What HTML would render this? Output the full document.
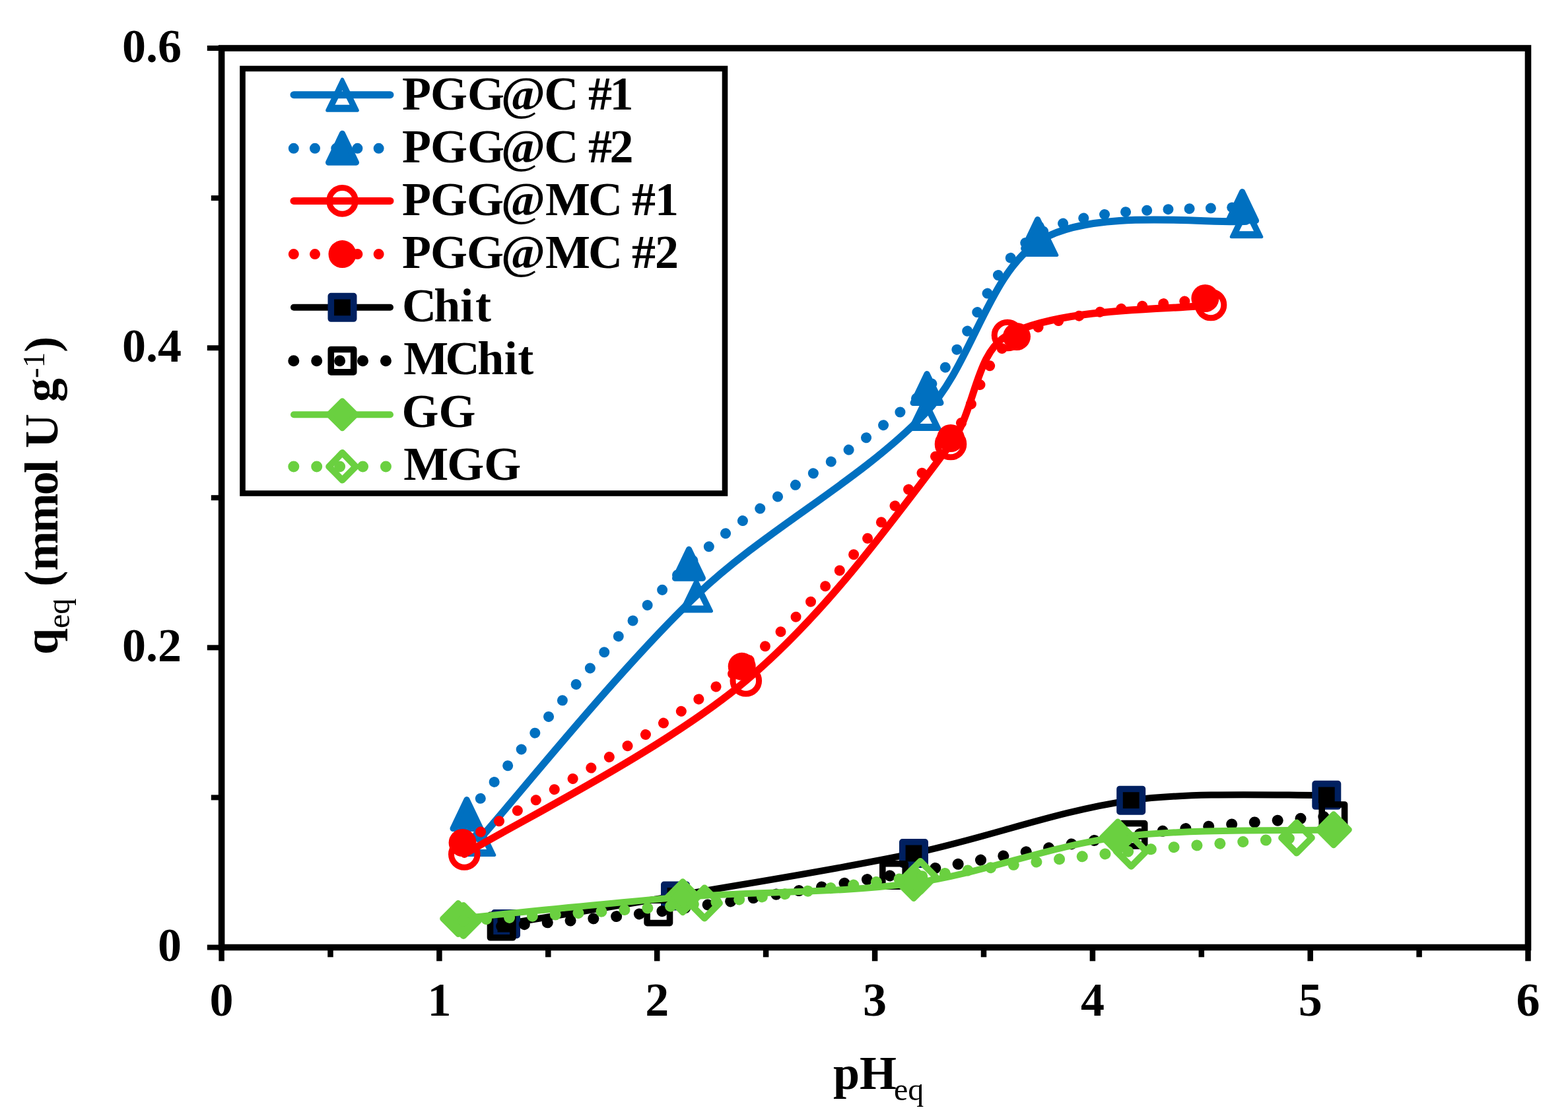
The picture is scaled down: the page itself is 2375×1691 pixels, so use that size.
<!DOCTYPE html>
<html><head><meta charset="utf-8"><title>Chart</title>
<style>html,body{margin:0;padding:0;background:#fff;overflow:hidden;}svg{display:block;}</style>
</head><body>
<svg width="2375" height="1691" viewBox="0 0 2375 1691">
<rect width="2375" height="1691" fill="#fff"/>
<path d="M726.0,1272.0 C780.8,1210.4 936.0,1015.9 1054.7,902.4 C1160.9,800.9 1299.3,731.6 1400.8,627.0 C1473.8,551.8 1495.9,412.1 1578.0,363.0 C1658.3,314.9 1836.3,339.9 1888.0,335.3" fill="none" stroke="#0070C0" stroke-width="11" stroke-linecap="round" stroke-linejoin="round"/>
<path d="M726.0,1248.5L748.8,1295.5L703.2,1295.5Z M726.0,1265.0L715.0,1287.0L737.0,1287.0Z" fill="#0070C0" fill-rule="evenodd"/><path d="M726.0,1248.5L748.8,1295.5L703.2,1295.5Z" fill="none" stroke="#0070C0" stroke-width="5" stroke-linejoin="round"/>
<path d="M1054.7,878.9L1077.5,925.9L1031.9,925.9Z M1054.7,895.4L1043.7,917.4L1065.7,917.4Z" fill="#0070C0" fill-rule="evenodd"/><path d="M1054.7,878.9L1077.5,925.9L1031.9,925.9Z" fill="none" stroke="#0070C0" stroke-width="5" stroke-linejoin="round"/>
<path d="M1400.8,603.5L1423.6,650.5L1378.0,650.5Z M1400.8,620.0L1389.8,642.0L1411.8,642.0Z" fill="#0070C0" fill-rule="evenodd"/><path d="M1400.8,603.5L1423.6,650.5L1378.0,650.5Z" fill="none" stroke="#0070C0" stroke-width="5" stroke-linejoin="round"/>
<path d="M1578.0,339.5L1600.8,386.5L1555.2,386.5Z M1578.0,356.0L1567.0,378.0L1589.0,378.0Z" fill="#0070C0" fill-rule="evenodd"/><path d="M1578.0,339.5L1600.8,386.5L1555.2,386.5Z" fill="none" stroke="#0070C0" stroke-width="5" stroke-linejoin="round"/>
<path d="M1888.0,311.8L1910.8,358.8L1865.2,358.8Z M1888.0,328.3L1877.0,350.3L1899.0,350.3Z" fill="#0070C0" fill-rule="evenodd"/><path d="M1888.0,311.8L1910.8,358.8L1865.2,358.8Z" fill="none" stroke="#0070C0" stroke-width="5" stroke-linejoin="round"/>
<path d="M707.0,1234.0 C763.1,1170.8 920.1,968.9 1043.5,854.7 C1152.5,753.9 1296.8,690.4 1404.0,589.0 C1472.9,523.8 1495.3,399.1 1571.6,355.0 C1654.5,307.1 1829.9,320.0 1881.6,313.0" fill="none" stroke="#0070C0" stroke-width="16" stroke-linecap="round" stroke-dasharray="0.01 32.2"/>
<path d="M707.0,1211.5L728.0,1255.5L686.0,1255.5Z" fill="#0070C0" stroke="#0070C0" stroke-width="9" stroke-linejoin="round"/>
<path d="M1043.5,832.2L1064.5,876.2L1022.5,876.2Z" fill="#0070C0" stroke="#0070C0" stroke-width="9" stroke-linejoin="round"/>
<path d="M1404.0,566.5L1425.0,610.5L1383.0,610.5Z" fill="#0070C0" stroke="#0070C0" stroke-width="9" stroke-linejoin="round"/>
<path d="M1571.6,332.5L1592.6,376.5L1550.6,376.5Z" fill="#0070C0" stroke="#0070C0" stroke-width="9" stroke-linejoin="round"/>
<path d="M1881.6,290.5L1902.6,334.5L1860.6,334.5Z" fill="#0070C0" stroke="#0070C0" stroke-width="9" stroke-linejoin="round"/>
<path d="M703.3,1294.5 C774.4,1250.7 1003.6,1138.0 1129.8,1031.5 C1249.2,930.8 1345.2,798.3 1440.0,673.0 C1477.2,623.8 1476.9,534.3 1526.0,508.0 C1608.2,464.0 1782.7,469.7 1834.0,462.0" fill="none" stroke="#FF0000" stroke-width="11" stroke-linecap="round" stroke-linejoin="round"/>
<circle cx="703.3" cy="1294.5" r="19.8" fill="none" stroke="#FF0000" stroke-width="9"/>
<circle cx="1129.8" cy="1031.5" r="19.8" fill="none" stroke="#FF0000" stroke-width="9"/>
<circle cx="1440.0" cy="673.0" r="19.8" fill="none" stroke="#FF0000" stroke-width="9"/>
<circle cx="1526.0" cy="508.0" r="19.8" fill="none" stroke="#FF0000" stroke-width="9"/>
<circle cx="1834.0" cy="462.0" r="19.8" fill="none" stroke="#FF0000" stroke-width="9"/>
<path d="M700.6,1277.0 C771.1,1232.5 996.4,1115.3 1123.7,1009.8 C1242.9,911.0 1340.3,783.7 1440.0,664.0 C1479.1,617.1 1490.3,537.3 1540.0,510.0 C1618.8,466.7 1777.8,461.7 1825.4,452.0" fill="none" stroke="#FF0000" stroke-width="16" stroke-linecap="round" stroke-dasharray="0.01 32.2"/>
<circle cx="700.6" cy="1277.0" r="21" fill="#FF0000"/>
<circle cx="1123.7" cy="1009.8" r="21" fill="#FF0000"/>
<circle cx="1440.0" cy="664.0" r="21" fill="#FF0000"/>
<circle cx="1540.0" cy="510.0" r="21" fill="#FF0000"/>
<circle cx="1825.4" cy="452.0" r="21" fill="#FF0000"/>
<path d="M766.0,1400.0 C808.8,1392.9 937.4,1372.3 1023.0,1357.5 C1143.4,1336.6 1264.4,1318.1 1384.0,1293.0 C1494.5,1269.8 1602.0,1228.4 1713.2,1212.7 C1810.4,1199.0 1960.0,1206.1 2009.3,1204.8" fill="none" stroke="#000000" stroke-width="10" stroke-linecap="round" stroke-linejoin="round"/>
<rect x="748.8" y="1382.8" width="34.4" height="34.4" fill="#000000" stroke="#002060" stroke-width="9.6" stroke-linejoin="round"/>
<rect x="1005.8" y="1340.3" width="34.4" height="34.4" fill="#000000" stroke="#002060" stroke-width="9.6" stroke-linejoin="round"/>
<rect x="1366.8" y="1275.8" width="34.4" height="34.4" fill="#000000" stroke="#002060" stroke-width="9.6" stroke-linejoin="round"/>
<rect x="1696.0" y="1195.5" width="34.4" height="34.4" fill="#000000" stroke="#002060" stroke-width="9.6" stroke-linejoin="round"/>
<rect x="1992.1" y="1187.6" width="34.4" height="34.4" fill="#000000" stroke="#002060" stroke-width="9.6" stroke-linejoin="round"/>
<path d="M759.7,1403.6 C799.3,1399.9 918.5,1391.7 997.3,1381.4 C1116.6,1365.8 1235.2,1345.3 1354.0,1326.0 C1475.0,1306.4 1595.1,1281.2 1716.5,1264.8 C1816.9,1251.2 1968.9,1241.0 2019.4,1236.2" fill="none" stroke="#000000" stroke-width="17" stroke-linecap="round" stroke-dasharray="0.01 34.9"/>
<rect x="742.5" y="1386.4" width="34.4" height="34.4" fill="none" stroke="#000000" stroke-width="9.6" stroke-linejoin="round"/>
<rect x="980.1" y="1364.2" width="34.4" height="34.4" fill="none" stroke="#000000" stroke-width="9.6" stroke-linejoin="round"/>
<rect x="1336.8" y="1308.8" width="34.4" height="34.4" fill="none" stroke="#000000" stroke-width="9.6" stroke-linejoin="round"/>
<rect x="1699.3" y="1247.6" width="34.4" height="34.4" fill="none" stroke="#000000" stroke-width="9.6" stroke-linejoin="round"/>
<rect x="2002.2" y="1219.0" width="34.4" height="34.4" fill="none" stroke="#000000" stroke-width="9.6" stroke-linejoin="round"/>
<path d="M694.0,1392.0 C750.7,1386.5 920.6,1368.1 1034.2,1359.2 C1150.6,1350.1 1268.6,1353.9 1384.0,1338.0 C1488.3,1323.6 1588.9,1281.7 1693.2,1268.5 C1800.9,1254.8 1965.5,1259.2 2020.0,1257.3" fill="none" stroke="#6AD040" stroke-width="10" stroke-linecap="round" stroke-linejoin="round"/>
<path d="M694.0,1368.2L717.6,1392.0L694.0,1415.8L670.4,1392.0Z" fill="#6AD040" stroke="#6AD040" stroke-width="8.5" stroke-linejoin="round"/>
<path d="M1034.2,1335.4L1057.8,1359.2L1034.2,1383.0L1010.6,1359.2Z" fill="#6AD040" stroke="#6AD040" stroke-width="8.5" stroke-linejoin="round"/>
<path d="M1384.0,1314.2L1407.6,1338.0L1384.0,1361.8L1360.4,1338.0Z" fill="#6AD040" stroke="#6AD040" stroke-width="8.5" stroke-linejoin="round"/>
<path d="M1693.2,1244.7L1716.8,1268.5L1693.2,1292.3L1669.6,1268.5Z" fill="#6AD040" stroke="#6AD040" stroke-width="8.5" stroke-linejoin="round"/>
<path d="M2020.0,1233.5L2043.6,1257.3L2020.0,1281.1L1996.4,1257.3Z" fill="#6AD040" stroke="#6AD040" stroke-width="8.5" stroke-linejoin="round"/>
<path d="M702.0,1395.0 C762.9,1390.6 945.7,1380.3 1067.1,1368.5 C1176.4,1357.9 1285.0,1341.3 1394.0,1328.0 C1500.4,1315.0 1606.7,1300.6 1713.4,1289.7 C1796.7,1281.2 1922.2,1272.9 1964.0,1269.6" fill="none" stroke="#6AD040" stroke-width="17" stroke-linecap="round" stroke-dasharray="0.01 34.9"/>
<path d="M702.0,1372.0L724.9,1395.0L702.0,1418.0L679.1,1395.0Z" fill="none" stroke="#6AD040" stroke-width="10" stroke-linejoin="round"/>
<path d="M1067.1,1345.5L1089.9,1368.5L1067.1,1391.5L1044.2,1368.5Z" fill="none" stroke="#6AD040" stroke-width="10" stroke-linejoin="round"/>
<path d="M1394.0,1305.0L1416.8,1328.0L1394.0,1351.0L1371.2,1328.0Z" fill="none" stroke="#6AD040" stroke-width="10" stroke-linejoin="round"/>
<path d="M1713.4,1266.7L1736.2,1289.7L1713.4,1312.8L1690.6,1289.7Z" fill="none" stroke="#6AD040" stroke-width="10" stroke-linejoin="round"/>
<path d="M1964.0,1246.5L1986.8,1269.6L1964.0,1292.6L1941.2,1269.6Z" fill="none" stroke="#6AD040" stroke-width="10" stroke-linejoin="round"/>
<rect x="335.6" y="73.0" width="1978.9" height="1362.5" fill="none" stroke="#000" stroke-width="9.6"/>
<line x1="313.8" y1="1435.5" x2="335.6" y2="1435.5" stroke="#000" stroke-width="8"/>
<line x1="319.8" y1="1208.4" x2="335.6" y2="1208.4" stroke="#000" stroke-width="8"/>
<line x1="313.8" y1="981.3" x2="335.6" y2="981.3" stroke="#000" stroke-width="8"/>
<line x1="319.8" y1="754.2" x2="335.6" y2="754.2" stroke="#000" stroke-width="8"/>
<line x1="313.8" y1="527.2" x2="335.6" y2="527.2" stroke="#000" stroke-width="8"/>
<line x1="319.8" y1="300.1" x2="335.6" y2="300.1" stroke="#000" stroke-width="8"/>
<line x1="313.8" y1="73.0" x2="335.6" y2="73.0" stroke="#000" stroke-width="8"/>
<line x1="335.6" y1="1435.5" x2="335.6" y2="1456.3" stroke="#000" stroke-width="8.5"/>
<line x1="500.5" y1="1435.5" x2="500.5" y2="1450.3" stroke="#000" stroke-width="8.5"/>
<line x1="665.4" y1="1435.5" x2="665.4" y2="1456.3" stroke="#000" stroke-width="8.5"/>
<line x1="830.3" y1="1435.5" x2="830.3" y2="1450.3" stroke="#000" stroke-width="8.5"/>
<line x1="995.2" y1="1435.5" x2="995.2" y2="1456.3" stroke="#000" stroke-width="8.5"/>
<line x1="1160.1" y1="1435.5" x2="1160.1" y2="1450.3" stroke="#000" stroke-width="8.5"/>
<line x1="1325.1" y1="1435.5" x2="1325.1" y2="1456.3" stroke="#000" stroke-width="8.5"/>
<line x1="1490.0" y1="1435.5" x2="1490.0" y2="1450.3" stroke="#000" stroke-width="8.5"/>
<line x1="1654.9" y1="1435.5" x2="1654.9" y2="1456.3" stroke="#000" stroke-width="8.5"/>
<line x1="1819.8" y1="1435.5" x2="1819.8" y2="1450.3" stroke="#000" stroke-width="8.5"/>
<line x1="1984.7" y1="1435.5" x2="1984.7" y2="1456.3" stroke="#000" stroke-width="8.5"/>
<line x1="2149.6" y1="1435.5" x2="2149.6" y2="1450.3" stroke="#000" stroke-width="8.5"/>
<line x1="2314.5" y1="1435.5" x2="2314.5" y2="1456.3" stroke="#000" stroke-width="8.5"/>
<text x="275" y="1456.0" font-family="'Liberation Serif', 'Times New Roman', serif" font-weight="bold" font-size="72" text-anchor="end">0</text>
<text x="275" y="1001.8" font-family="'Liberation Serif', 'Times New Roman', serif" font-weight="bold" font-size="72" text-anchor="end">0.2</text>
<text x="275" y="547.7" font-family="'Liberation Serif', 'Times New Roman', serif" font-weight="bold" font-size="72" text-anchor="end">0.4</text>
<text x="275" y="93.5" font-family="'Liberation Serif', 'Times New Roman', serif" font-weight="bold" font-size="72" text-anchor="end">0.6</text>
<text x="335.6" y="1539" font-family="'Liberation Serif', 'Times New Roman', serif" font-weight="bold" font-size="72" text-anchor="middle">0</text>
<text x="665.4" y="1539" font-family="'Liberation Serif', 'Times New Roman', serif" font-weight="bold" font-size="72" text-anchor="middle">1</text>
<text x="995.2" y="1539" font-family="'Liberation Serif', 'Times New Roman', serif" font-weight="bold" font-size="72" text-anchor="middle">2</text>
<text x="1325.1" y="1539" font-family="'Liberation Serif', 'Times New Roman', serif" font-weight="bold" font-size="72" text-anchor="middle">3</text>
<text x="1654.9" y="1539" font-family="'Liberation Serif', 'Times New Roman', serif" font-weight="bold" font-size="72" text-anchor="middle">4</text>
<text x="1984.7" y="1539" font-family="'Liberation Serif', 'Times New Roman', serif" font-weight="bold" font-size="72" text-anchor="middle">5</text>
<text x="2314.5" y="1539" font-family="'Liberation Serif', 'Times New Roman', serif" font-weight="bold" font-size="72" text-anchor="middle">6</text>
<text x="1262" y="1650" font-family="'Liberation Serif', 'Times New Roman', serif" font-weight="bold" font-size="72">pH<tspan font-size="48" font-weight="normal" dx="-4" dy="17">eq</tspan></text>
<text transform="translate(87,992) rotate(-90)" font-family="'Liberation Serif', 'Times New Roman', serif" font-weight="bold" font-size="72">q<tspan font-size="48" font-weight="normal" dy="18">eq</tspan><tspan dy="-18"> (</tspan><tspan letter-spacing="-2.75">mmo</tspan><tspan>l U g</tspan><tspan font-size="47" font-weight="normal" dy="-20">-1</tspan><tspan dy="20">)</tspan></text>
<rect x="367.5" y="104" width="730.5" height="643.5" fill="#fff" stroke="#000" stroke-width="8.6"/>
<path d="M445,143.7H591" fill="none" stroke="#0070C0" stroke-width="11" stroke-linecap="round" stroke-linejoin="round"/>
<path d="M518.5,120.2L541.3,167.2L495.7,167.2Z M518.5,136.7L507.5,158.7L529.5,158.7Z" fill="#0070C0" fill-rule="evenodd"/><path d="M518.5,120.2L541.3,167.2L495.7,167.2Z" fill="none" stroke="#0070C0" stroke-width="5" stroke-linejoin="round"/>
<text x="608" y="165.5" dx="1 -1 0 -5 -1.7 0 -3.3 -3.4" font-family="'Liberation Serif', 'Times New Roman', serif" font-weight="bold" font-size="72">PGG@C #1</text>
<path d="M444.8,224.8H600" fill="none" stroke="#0070C0" stroke-width="16" stroke-linecap="round" stroke-dasharray="0.01 32.2"/>
<path d="M518.5,202.3L539.5,246.3L497.5,246.3Z" fill="#0070C0" stroke="#0070C0" stroke-width="9" stroke-linejoin="round"/>
<text x="608" y="245.8" dx="1 -1 0 -5 -1.7 0 -3.3 -3.4" font-family="'Liberation Serif', 'Times New Roman', serif" font-weight="bold" font-size="72">PGG@C #2</text>
<path d="M445,304.4H591" fill="none" stroke="#FF0000" stroke-width="11" stroke-linecap="round" stroke-linejoin="round"/>
<circle cx="518.5" cy="304.4" r="19.8" fill="none" stroke="#FF0000" stroke-width="9"/>
<text x="608" y="326.0" dx="1 -1 -1 -4 0 -3 0 -4 -1" font-family="'Liberation Serif', 'Times New Roman', serif" font-weight="bold" font-size="72">PGG@MC #1</text>
<path d="M444.8,385.1H600" fill="none" stroke="#FF0000" stroke-width="16" stroke-linecap="round" stroke-dasharray="0.01 32.2"/>
<circle cx="518.5" cy="385.1" r="21" fill="#FF0000"/>
<text x="608" y="406.2" dx="1 -1 -1 -4 0 -3 0 -4 -1" font-family="'Liberation Serif', 'Times New Roman', serif" font-weight="bold" font-size="72">PGG@MC #2</text>
<path d="M445,465.8H591" fill="none" stroke="#000000" stroke-width="10" stroke-linecap="round" stroke-linejoin="round"/>
<rect x="501.3" y="448.6" width="34.4" height="34.4" fill="#000000" stroke="#002060" stroke-width="9.6" stroke-linejoin="round"/>
<text x="608" y="486.5" dx="1 -3.8 0.1 2.6" font-family="'Liberation Serif', 'Times New Roman', serif" font-weight="bold" font-size="72">Chit</text>
<path d="M444.8,546.7H600" fill="none" stroke="#000000" stroke-width="17" stroke-linecap="round" stroke-dasharray="0.01 34.9"/>
<rect x="501.3" y="529.5" width="34.4" height="34.4" fill="none" stroke="#000000" stroke-width="9.6" stroke-linejoin="round"/>
<text x="608" y="566.8" dx="3.2 -4.7 -3.3 0.6 0.5" font-family="'Liberation Serif', 'Times New Roman', serif" font-weight="bold" font-size="72">MChit</text>
<path d="M445,628.3H591" fill="none" stroke="#6AD040" stroke-width="10" stroke-linecap="round" stroke-linejoin="round"/>
<path d="M518.5,607.5L539.3,628.3L518.5,649.1L497.7,628.3Z" fill="#6AD040" stroke="#6AD040" stroke-width="8.5" stroke-linejoin="round"/>
<text x="608" y="647.0" dx="0.5 0" font-family="'Liberation Serif', 'Times New Roman', serif" font-weight="bold" font-size="72">GG</text>
<path d="M444.8,706.9H600" fill="none" stroke="#6AD040" stroke-width="17" stroke-linecap="round" stroke-dasharray="0.01 34.9"/>
<path d="M518.5,686.1L538.8,706.9L518.5,727.6L498.2,706.9Z" fill="none" stroke="#6AD040" stroke-width="10" stroke-linejoin="round"/>
<text x="608" y="727.2" dx="3.2 -2 0" font-family="'Liberation Serif', 'Times New Roman', serif" font-weight="bold" font-size="72">MGG</text>
</svg>
</body></html>
